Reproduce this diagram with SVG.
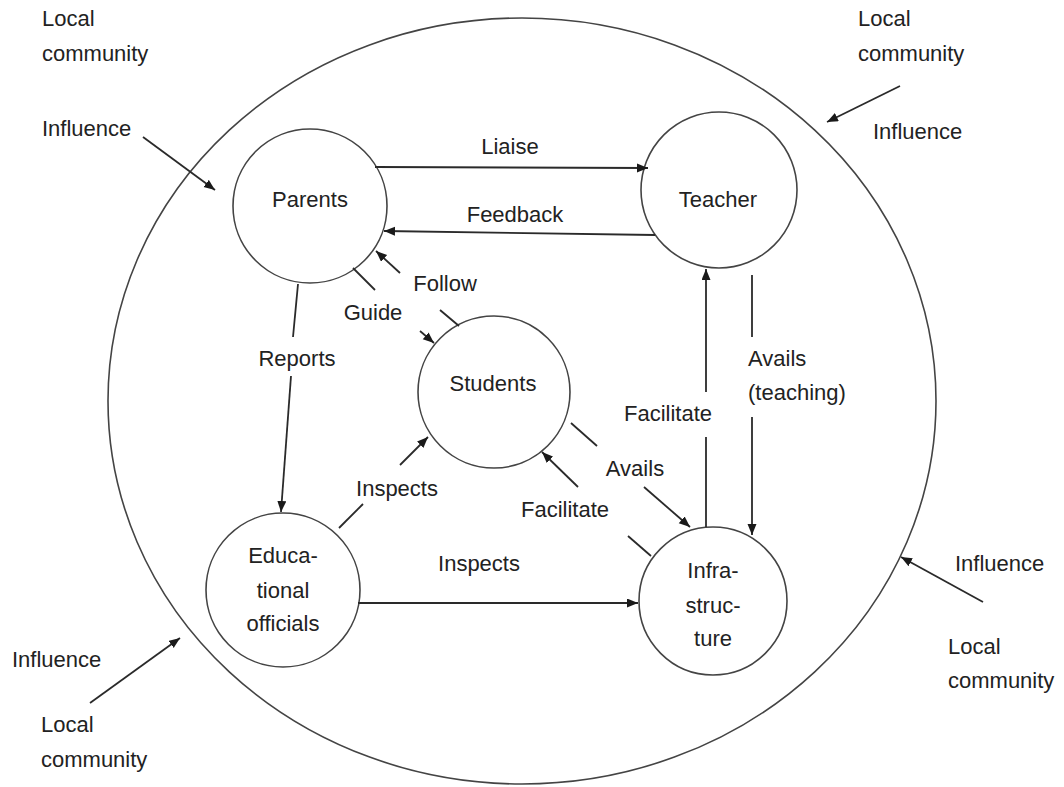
<svg xmlns="http://www.w3.org/2000/svg" width="1064" height="787" viewBox="0 0 1064 787">
<style>
text{font-family:"Liberation Sans",Arial,sans-serif;font-size:22px;fill:#222}
.c{text-anchor:middle}
.node{fill:#fff;stroke:#444;stroke-width:1.6}
.ln{stroke:#2a2a2a;stroke-width:1.8;fill:none}
.a{marker-end:url(#ah)}
</style>
<defs>
<marker id="ah" markerUnits="userSpaceOnUse" markerWidth="12" markerHeight="10" refX="11" refY="4.5" orient="auto">
<path d="M0,0 L11,4.5 L0,9 z" fill="#1a1a1a"/>
</marker>
</defs>
<rect width="1064" height="787" fill="#fff"/>
<g id="boundary">
<ellipse cx="522" cy="401" rx="414" ry="383" fill="none" stroke="#444" stroke-width="1.6"/>
</g>
<g id="parents"><circle class="node" cx="310" cy="206" r="77"/><text class="c" x="310" y="207">Parents</text></g>
<g id="teacher"><circle class="node" cx="719" cy="190" r="78"/><text class="c" x="718" y="207">Teacher</text></g>
<g id="students"><circle class="node" cx="494" cy="392" r="76"/><text class="c" x="493" y="391">Students</text></g>
<g id="officials"><circle class="node" cx="283" cy="590" r="77"/><text class="c" x="283" y="563">Educa-</text><text class="c" x="283" y="598">tional</text><text class="c" x="283" y="631">officials</text></g>
<g id="infrastructure"><circle class="node" cx="713" cy="601" r="74"/><text class="c" x="713" y="578">Infra-</text><text class="c" x="713" y="613">struc-</text><text class="c" x="713" y="646">ture</text></g>
<g id="connectors">
<line class="ln a" x1="375" y1="167" x2="648" y2="168"/>
<line class="ln a" x1="655" y1="235" x2="384" y2="231"/>
<line class="ln" x1="459" y1="326" x2="440" y2="310"/>
<line class="ln a" x1="400" y1="273" x2="376" y2="251"/>
<line class="ln" x1="353" y1="268" x2="375" y2="290"/>
<line class="ln a" x1="420" y1="331" x2="434" y2="343"/>
<line class="ln" x1="298" y1="284" x2="293" y2="337"/>
<line class="ln a" x1="291" y1="376" x2="281" y2="512"/>
<line class="ln" x1="752" y1="275" x2="752" y2="337"/>
<line class="ln a" x1="752" y1="417" x2="752" y2="535"/>
<line class="ln" x1="706" y1="527" x2="706" y2="437"/>
<line class="ln a" x1="706" y1="392" x2="706" y2="269"/>
<line class="ln" x1="571" y1="423" x2="597" y2="446"/>
<line class="ln a" x1="644" y1="487" x2="690" y2="527"/>
<line class="ln" x1="651" y1="556" x2="628" y2="536"/>
<line class="ln a" x1="578" y1="487" x2="542" y2="452"/>
<line class="ln" x1="339" y1="528" x2="363" y2="504"/>
<line class="ln a" x1="400" y1="465" x2="428" y2="437"/>
<line class="ln a" x1="358" y1="603" x2="638" y2="603"/>
<line class="ln a" x1="143" y1="137" x2="215" y2="190"/>
<line class="ln a" x1="900" y1="86" x2="827" y2="122"/>
<line class="ln a" x1="983" y1="602" x2="901" y2="557"/>
<line class="ln a" x1="90" y1="703" x2="180" y2="638"/>
</g>
<g id="labels">
<text class="c" x="510" y="154">Liaise</text>
<text class="c" x="515" y="222">Feedback</text>
<text class="c" x="445" y="291">Follow</text>
<text class="c" x="373" y="320">Guide</text>
<text class="c" x="297" y="366">Reports</text>
<text x="748" y="366">Avails</text>
<text x="748" y="400">(teaching)</text>
<text class="c" x="668" y="421">Facilitate</text>
<text class="c" x="635" y="476">Avails</text>
<text class="c" x="565" y="517">Facilitate</text>
<text class="c" x="397" y="496">Inspects</text>
<text class="c" x="479" y="571">Inspects</text>
<text x="42" y="26">Local</text>
<text x="42" y="61">community</text>
<text x="42" y="136">Influence</text>
<text x="858" y="26">Local</text>
<text x="858" y="61">community</text>
<text x="873" y="139">Influence</text>
<text x="955" y="571">Influence</text>
<text x="948" y="654">Local</text>
<text x="948" y="688">community</text>
<text x="12" y="667">Influence</text>
<text x="41" y="732">Local</text>
<text x="41" y="767">community</text>
</g>
</svg>
